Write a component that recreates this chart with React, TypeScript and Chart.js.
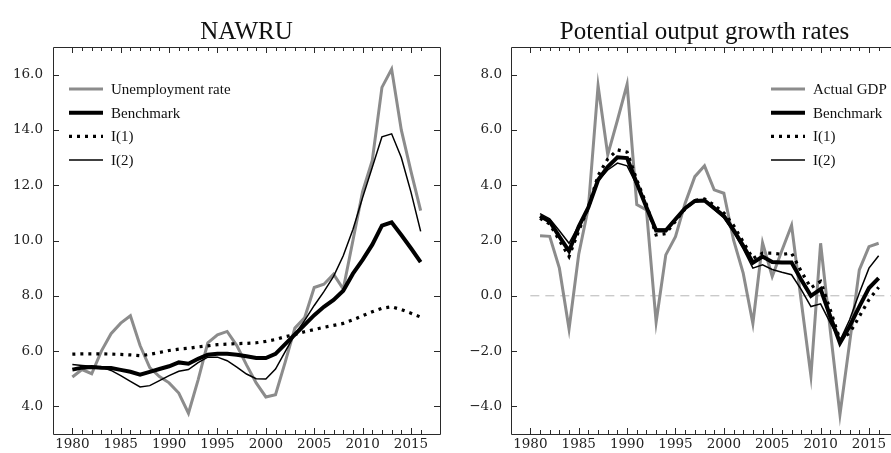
import React, { useEffect, useRef } from 'react';
import { Chart, registerables } from 'chart.js';

Chart.register(...registerables);

// ---------- Data ----------
const nawruYears = [1980, 1981, 1982, 1983, 1984, 1985, 1986, 1987, 1988, 1989, 1990, 1991, 1992, 1993, 1994, 1995, 1996, 1997, 1998, 1999, 2000, 2001, 2002, 2003, 2004, 2005, 2006, 2007, 2008, 2009, 2010, 2011, 2012, 2013, 2014, 2015, 2016];
const unemploymentRate = [5.06, 5.33, 5.18, 6.0, 6.63, 7.01, 7.28, 6.2, 5.4, 5.08, 4.85, 4.48, 3.75, 4.96, 6.3, 6.59, 6.71, 6.2, 5.5, 4.85, 4.34, 4.42, 5.6, 6.83, 7.2, 8.3, 8.42, 8.78, 8.24, 10.0, 11.77, 12.9, 15.54, 16.2, 14.0, 12.5, 11.08];
const nawruBenchmark = [5.33, 5.4, 5.42, 5.4, 5.39, 5.32, 5.25, 5.15, 5.25, 5.35, 5.45, 5.59, 5.54, 5.72, 5.87, 5.9, 5.9, 5.87, 5.81, 5.75, 5.75, 5.9, 6.25, 6.6, 6.95, 7.3, 7.6, 7.85, 8.18, 8.8, 9.3, 9.85, 10.54, 10.66, 10.2, 9.72, 9.22];
const nawruI1 = [5.89, 5.9, 5.9, 5.9, 5.89, 5.88, 5.86, 5.83, 5.88, 5.95, 6.02, 6.07, 6.1, 6.15, 6.19, 6.23, 6.25, 6.27, 6.28, 6.3, 6.35, 6.42, 6.52, 6.6, 6.7, 6.78, 6.86, 6.93, 7.0, 7.13, 7.28, 7.42, 7.55, 7.6, 7.5, 7.37, 7.23];
const nawruI2 = [5.51, 5.48, 5.45, 5.42, 5.3, 5.11, 4.9, 4.7, 4.75, 4.93, 5.11, 5.27, 5.33, 5.58, 5.78, 5.78, 5.65, 5.42, 5.17, 5.0, 4.99, 5.35, 5.98, 6.6, 7.1, 7.65, 8.15, 8.7, 9.45, 10.4, 11.55, 12.65, 13.75, 13.86, 13.0, 11.75, 10.33];
const nawruYTicks = [4, 6, 8, 10, 12, 14, 16];

const growthYears = [1981, 1982, 1983, 1984, 1985, 1986, 1987, 1988, 1989, 1990, 1991, 1992, 1993, 1994, 1995, 1996, 1997, 1998, 1999, 2000, 2001, 2002, 2003, 2004, 2005, 2006, 2007, 2008, 2009, 2010, 2011, 2012, 2013, 2014, 2015, 2016];
const actualGdp = [2.17, 2.15, 1.0, -1.2, 1.5, 3.2, 7.6, 5.1, 6.35, 7.65, 3.3, 3.11, -0.95, 1.48, 2.14, 3.35, 4.31, 4.7, 3.83, 3.71, 2.02, 0.82, -1.0, 1.92, 0.7, 1.64, 2.55, -0.2, -2.9, 1.9, -1.25, -4.3, -1.7, 0.94, 1.78, 1.9];
const growthBenchmark = [2.89, 2.69, 2.14, 1.62, 2.5, 3.2, 4.19, 4.67, 5.01, 4.98, 4.07, 3.2, 2.36, 2.36, 2.77, 3.17, 3.43, 3.45, 3.17, 2.89, 2.39, 1.81, 1.2, 1.42, 1.22, 1.2, 1.2, 0.58, 0.0, 0.24, -0.75, -1.71, -1.1, -0.39, 0.28, 0.64];
const growthI1 = [2.8, 2.6, 2.0, 1.42, 2.35, 3.2, 4.35, 4.95, 5.28, 5.2, 4.2, 3.3, 2.2, 2.25, 2.7, 3.15, 3.45, 3.5, 3.28, 3.0, 2.55, 1.95, 1.35, 1.54, 1.54, 1.5, 1.54, 0.88, 0.29, 0.52, -0.51, -1.59, -1.35, -0.75, -0.14, 0.31];
const growthI2 = [2.97, 2.78, 2.35, 1.9, 2.55, 3.2, 4.15, 4.55, 4.8, 4.7, 4.0, 3.25, 2.42, 2.42, 2.8, 3.15, 3.4, 3.43, 3.12, 2.82, 2.3, 1.7, 1.0, 1.12, 0.95, 0.85, 0.76, 0.22, -0.39, -0.29, -0.98, -1.62, -0.87, 0.1, 1.0, 1.45];
const growthYTicks = [-4, -2, 0, 2, 4, 6, 8];
const zeroLineYears = [1980, 2018];
const zeroLineValues = [0, 0];

const xLabelYears = [1980, 1985, 1990, 1995, 2000, 2005, 2010, 2015];
const xMinorTickYears = nawruYears;

// ---------- Styles ----------
const GRAY = '#8c8c8c';
const LABEL_FONT = '"DejaVu Serif", serif';
const SERIF = '"Liberation Serif", serif';

type Series = { label: string; years: number[]; values: number[]; color: string; width: number; dash?: number[]; legend?: boolean; order: number };

const framePlugin = {
  id: 'frameTicks',
  afterDraw(chart: any, _args: any, o: any) {
    const { ctx, chartArea: a, scales } = chart;
    const x = scales.x;
    const y = scales.y;
    ctx.save();
    ctx.strokeStyle = '#2a2a2a';
    ctx.lineWidth = 1;
    ctx.beginPath();
    ctx.rect(Math.round(a.left) + 0.5, Math.round(a.top) + 0.5, Math.round(a.right - a.left), Math.round(a.bottom - a.top));
    for (const yr of o.minorYears) {
      const px = Math.round(x.getPixelForValue(yr)) + 0.5;
      const len = o.majorYears.includes(yr) ? 6 : 4;
      ctx.moveTo(px, a.bottom);
      ctx.lineTo(px, a.bottom - len);
      ctx.moveTo(px, a.top);
      ctx.lineTo(px, a.top + len);
    }
    for (const v of o.yTicks) {
      const py = Math.round(y.getPixelForValue(v)) + 0.5;
      ctx.moveTo(a.left, py);
      ctx.lineTo(a.left + 6, py);
      ctx.moveTo(a.right, py);
      ctx.lineTo(a.right - 6, py);
    }
    ctx.stroke();

    // legend
    const entries = chart.data.datasets.filter((d: any) => d.showInLegend);
    ctx.font = '15px ' + SERIF;
    ctx.textBaseline = 'middle';
    ctx.textAlign = 'left';
    entries.forEach((d: any, i: number) => {
      const yy = a.top + 42 + i * 23.7;
      const x0 = a.left + o.legendLeft;
      ctx.beginPath();
      ctx.strokeStyle = d.borderColor;
      ctx.lineWidth = d.borderWidth;
      ctx.lineCap = 'butt';
      ctx.setLineDash(d.borderDash || []);
      ctx.moveTo(x0, yy);
      ctx.lineTo(x0 + 34, yy);
      ctx.stroke();
      ctx.setLineDash([]);
      ctx.fillStyle = '#111';
      ctx.fillText(d.label, x0 + 42, yy + 1);
    });
    ctx.restore();
  },
};

function makeConfig(opts: {
  title: string;
  series: Series[];
  yMin: number;
  yMax: number;
  yTicks: number[];
  axisWidth: number;
  padRight: number;
  legendLeft: number;
  yPad: number;
}): any {
  return {
    type: 'line',
    data: {
      datasets: opts.series.map((s) => ({
        label: s.label,
        data: s.years.map((yr, i) => ({ x: yr, y: s.values[i] })),
        borderColor: s.color,
        borderWidth: s.width,
        borderDash: s.dash || [],
        borderCapStyle: 'butt',
        borderJoinStyle: 'miter',
        pointRadius: 0,
        tension: 0,
        fill: false,
        order: s.order,
        showInLegend: s.legend !== false,
      })),
    },
    options: {
      responsive: false,
      animation: false,
      devicePixelRatio: 1,
      layout: { padding: { left: 0, right: opts.padRight, top: 0, bottom: 0 } },
      plugins: {
        legend: { display: false },
        tooltip: { enabled: false },
        title: {
          display: true,
          text: opts.title,
          fullSize: false,
          color: '#111',
          font: { family: SERIF, size: 25, weight: 'normal', lineHeight: 1.2 },
          padding: { top: 17, bottom: 0 },
        },
        frameTicks: {
          minorYears: xMinorTickYears,
          majorYears: xLabelYears,
          yTicks: opts.yTicks,
          legendLeft: opts.legendLeft,
        },
      },
      scales: {
        x: {
          type: 'linear',
          min: 1978,
          max: 2018,
          grid: { display: false, drawTicks: false },
          border: { display: false },
          afterBuildTicks: (scale: any) => {
            scale.ticks = xLabelYears.map((v) => ({ value: v }));
          },
          afterFit: (scale: any) => {
            scale.height = 19;
          },
          ticks: {
            autoSkip: false,
            maxRotation: 0,
            padding: 2,
            color: '#222',
            font: { family: LABEL_FONT, size: 13.5 },
            callback: (v: any) => String(v),
          },
        },
        y: {
          type: 'linear',
          min: opts.yMin,
          max: opts.yMax,
          grid: { display: false, drawTicks: false },
          border: { display: false },
          afterBuildTicks: (scale: any) => {
            scale.ticks = opts.yTicks.map((v) => ({ value: v }));
          },
          afterFit: (scale: any) => {
            scale.width = opts.axisWidth;
          },
          ticks: {
            autoSkip: false,
            padding: opts.yPad,
            color: '#222',
            font: { family: LABEL_FONT, size: 13.5 },
            callback: (v: any) => (v < 0 ? '\u2212' + Math.abs(v).toFixed(1) : Number(v).toFixed(1)),
          },
        },
      },
    },
    plugins: [framePlugin],
  };
}

function ChartCanvas({ config, left, width }: { config: any; left: number; width: number }) {
  const ref = useRef<HTMLCanvasElement | null>(null);
  useEffect(() => {
    if (!ref.current) return;
    const chart = new Chart(ref.current, config);
    return () => chart.destroy();
  }, [config]);
  return <canvas ref={ref} width={width} height={453} style={{ position: 'absolute', left, top: 0, width, height: 453 }} />;
}

const nawruConfig = makeConfig({
  title: 'NAWRU',
  series: [
    { label: 'Unemployment rate', years: nawruYears, values: unemploymentRate, color: GRAY, width: 3, order: 4 },
    { label: 'Benchmark', years: nawruYears, values: nawruBenchmark, color: '#000', width: 4, order: 3 },
    { label: 'I(1)', years: nawruYears, values: nawruI1, color: '#000', width: 3.2, dash: [3, 5], order: 2 },
    { label: 'I(2)', years: nawruYears, values: nawruI2, color: '#000', width: 1.5, order: 1 },
  ],
  yMin: 3,
  yMax: 17,
  yTicks: nawruYTicks,
  axisWidth: 53,
  padRight: 10,
  legendLeft: 16,
  yPad: 10,
});

const growthConfig = makeConfig({
  title: 'Potential output growth rates',
  series: [
    { label: 'Actual GDP', years: growthYears, values: actualGdp, color: GRAY, width: 3, order: 4 },
    { label: 'Benchmark', years: growthYears, values: growthBenchmark, color: '#000', width: 4, order: 3 },
    { label: 'I(1)', years: growthYears, values: growthI1, color: '#000', width: 3.2, dash: [3, 5], order: 2 },
    { label: 'I(2)', years: growthYears, values: growthI2, color: '#000', width: 1.5, order: 1 },
    { label: 'zero', years: zeroLineYears, values: zeroLineValues, color: '#b5b5b5', width: 1, dash: [9, 6], legend: false, order: 5 },
  ],
  yMin: -5,
  yMax: 9,
  yTicks: growthYTicks,
  axisWidth: 61,
  padRight: 2,
  legendLeft: 260,
  yPad: 9,
});

export default function App() {
  return (
    <div style={{ position: 'absolute', left: 0, top: 0, width: 891, height: 453, overflow: 'hidden', background: '#fff' }}>
      <ChartCanvas config={nawruConfig} left={0} width={450} />
      <ChartCanvas config={growthConfig} left={450} width={450} />
    </div>
  );
}
